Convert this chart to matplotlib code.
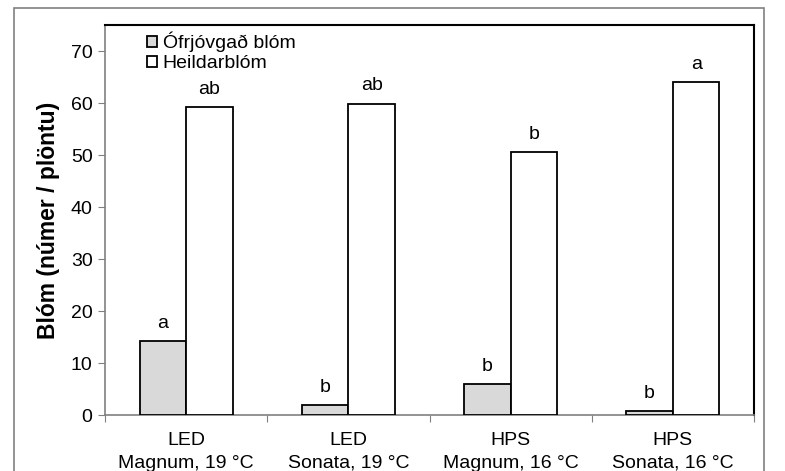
import matplotlib
matplotlib.use("Agg")
import matplotlib.pyplot as plt
from matplotlib.patches import Rectangle
import numpy as np

categories = ["LED\nMagnum, 19 °C", "LED\nSonata, 19 °C", "HPS\nMagnum, 16 °C", "HPS\nSonata, 16 °C"]
unfertilized = [14.2, 1.9, 6.0, 0.8]
total = [59.2, 59.9, 50.6, 64.0]
letters_unfert = ["a", "b", "b", "b"]
letters_total = ["ab", "ab", "b", "a"]
series_names = ["Ófrjóvgað blóm", "Heildarblóm"]
yticks = [0, 10, 20, 30, 40, 50, 60, 70]

plt.rcParams['font.family'] = ['Liberation Sans', 'DejaVu Sans']
FS = 14

fig = plt.figure(figsize=(7.85, 4.71), dpi=100)
ax = fig.add_axes([105/785, 1-415/471, (754-105)/785, (415-25)/471])

# outer chart frame
fig.patches.append(Rectangle((14/785, -0.02), (764-14)/785, 1-8/471+0.02,
                             transform=fig.transFigure, fill=False,
                             edgecolor='#808080', linewidth=1.2))

x = np.arange(len(categories))
w = 0.287
ax.bar(x - w/2, unfertilized, w, color='#d9d9d9', edgecolor='black', linewidth=1.3, label=series_names[0], zorder=3)
ax.bar(x + w/2, total, w, color='white', edgecolor='black', linewidth=1.3, label=series_names[1], zorder=3)

for xi, v, l in zip(x - w/2, unfertilized, letters_unfert):
    ax.annotate(l, (xi, v), xytext=(0, 9.5), textcoords='offset points', ha='center', va='baseline', fontsize=FS)
for xi, v, l in zip(x + w/2, total, letters_total):
    ax.annotate(l, (xi, v), xytext=(0, 9.5), textcoords='offset points', ha='center', va='baseline', fontsize=FS)

ax.set_xlim(-0.5, 3.5)
ax.set_ylim(0, 75)
ax.set_yticks(yticks)
ax.set_yticklabels([str(t) for t in yticks], fontsize=FS)
ax.set_xticks(np.arange(-0.5, 4, 1))
ax.set_xticklabels([])
ax.set_xticks(x, minor=True)
ax.set_xticklabels(categories, minor=True, fontsize=FS, linespacing=1.45)
ax.tick_params(axis='x', which='minor', length=0, pad=12)
ax.tick_params(axis='x', which='major', length=5, color='#808080', direction='out')
ax.tick_params(axis='y', length=5, color='#808080', direction='out', pad=4)

ax.set_ylabel("Blóm (númer / plöntu)", fontsize=16.5, fontweight='bold', labelpad=8)

for s in ['left', 'bottom']:
    ax.spines[s].set_color('#808080')
    ax.spines[s].set_linewidth(1.2)
for s in ['top', 'right']:
    ax.spines[s].set_color('black')
    ax.spines[s].set_linewidth(1.5)

leg = ax.legend(loc='upper left', bbox_to_anchor=(0.047, 1.012), frameon=False, fontsize=FS,
                handlelength=0.5, handleheight=0.5, handletextpad=0.3, labelspacing=0.15, borderaxespad=0.2)

fig.savefig("out.png", dpi=100)
